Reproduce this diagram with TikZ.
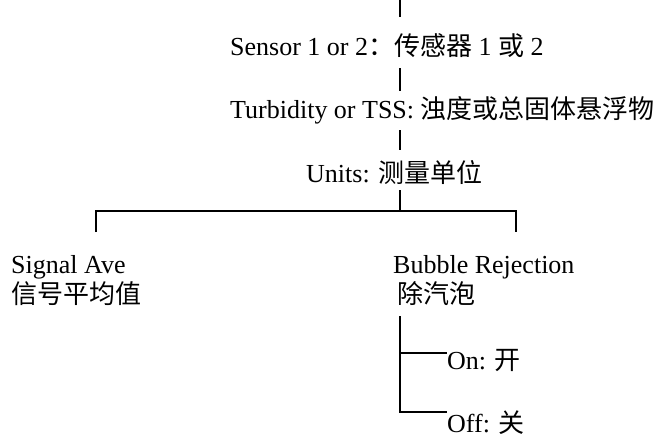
\documentclass[tikz,border=0pt]{standalone}
\usepackage{fontspec}
\setmainfont{Liberation Serif}
\newfontfamily\cjk{Noto Sans CJK SC}
\begin{document}
\begin{tikzpicture}[x=1pt,y=-1pt,
  lbl/.style={anchor=base west,inner sep=0pt,font=\fontsize{26}{30}\selectfont},
  conn/.style={line width=1.5pt}]
\useasboundingbox (0,0) rectangle (658,439);
% text nodes
\node[lbl] (sensor) at (230,55) {Sensor 1 or 2{\cjk ：传感器} 1 {\cjk 或} 2};
\node[lbl] (turb) at (230,118) {Turbidity or TSS: {\cjk 浊度或总固体悬浮物}};
\node[lbl] (units) at (306,182) {Units: {\cjk 测量单位}};
\node[lbl] (sig) at (11,273) {Signal Ave};
\node[lbl] (sigc) at (11,303) {\cjk 信号平均值};
\node[lbl] (bub) at (393,273) {Bubble Rejection};
\node[lbl] (bubc) at (397,303) {\cjk 除汽泡};
\node[lbl] (on) at (447,369) {On: {\cjk 开}};
\node[lbl] (off) at (447,432) {Off: {\cjk 关}};
% connector points
\coordinate (a0) at (400,0);
\coordinate (a1) at (400,17);
\coordinate (b0) at (400,68);
\coordinate (b1) at (400,91);
\coordinate (c0) at (400,130);
\coordinate (c1) at (400,150);
\coordinate (d0) at (400,190);
\coordinate (d1) at (400,211);
\coordinate (l0) at (96,211);
\coordinate (l1) at (96,232);
\coordinate (r0) at (516,211);
\coordinate (r1) at (516,232);
\coordinate (v0) at (400,316);
\coordinate (v1) at (400,353);
\coordinate (v2) at (400,412);
\coordinate (h1) at (447,353);
\coordinate (h2) at (447,412);
% connectors
\draw[conn] (a0) -- (a1);
\draw[conn] (b0) -- (b1);
\draw[conn] (c0) -- (c1);
\draw[conn] (d0) -- (d1);
\draw[conn] (l1) -- (l0) -- (r0) -- (r1);
\draw[conn] (v0) -- (v1) -- (h1);
\draw[conn] (v1) -- (v2) -- (h2);
\end{tikzpicture}
\end{document}
